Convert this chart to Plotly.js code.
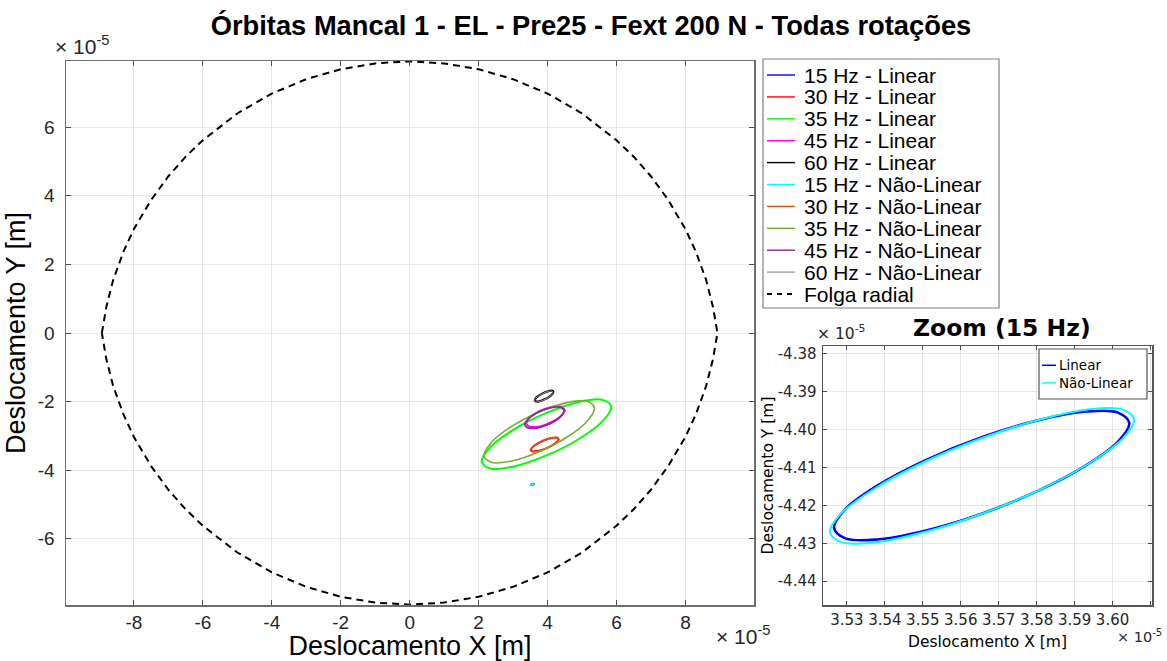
<!DOCTYPE html>
<html>
<head>
<meta charset="utf-8">
<script src="https://cdn.plot.ly/plotly-3.0.1.min.js"></script>
<style>
  html, body { margin: 0; padding: 0; background: #ffffff; }
  #chart { width: 1167px; height: 661px; }
</style>
</head>
<body>
<div id="chart"></div>
<script>
// All displacements are in units of 1e-5 m (axes carry the "x 10^-5" multiplier).

// ---- Orbits, linear model ----
const orb15LinX = [3.6044,3.6014,3.5930,3.5804,3.5655,3.5506,3.5380,3.5296,3.5266,3.5296,3.5380,3.5506,3.5655,3.5804,3.5930,3.6014,3.6044];
const orb15LinY = [-4.3983,-4.3955,-4.3952,-4.3975,-4.4020,-4.4081,-4.4148,-4.4210,-4.4259,-4.4287,-4.4290,-4.4267,-4.4222,-4.4161,-4.4094,-4.4032,-4.3983];
const orb30LinX = [4.32,4.27,4.12,3.92,3.72,3.57,3.52,3.57,3.72,3.92,4.12,4.27,4.32];
const orb30LinY = [-3.10,-3.05,-3.06,-3.12,-3.22,-3.32,-3.40,-3.45,-3.44,-3.38,-3.28,-3.18,-3.10];
const orb35LinX = [5.85,5.60,4.91,3.97,3.03,2.34,2.09,2.34,3.03,3.97,4.91,5.60,5.85];
const orb35LinY = [-2.15,-1.95,-2.01,-2.33,-2.81,-3.33,-3.75,-3.95,-3.89,-3.57,-3.09,-2.57,-2.15];
const orb45LinX = [4.50,4.42,4.22,3.94,3.66,3.46,3.38,3.46,3.66,3.94,4.22,4.42,4.50];
const orb45LinY = [-2.25,-2.16,-2.14,-2.21,-2.34,-2.49,-2.63,-2.72,-2.74,-2.67,-2.54,-2.39,-2.25];
const orb60LinX = [4.17,4.13,4.04,3.90,3.77,3.67,3.63,3.67,3.77,3.90,4.04,4.13,4.17];
const orb60LinY = [-1.72,-1.68,-1.69,-1.74,-1.81,-1.89,-1.96,-2.00,-1.99,-1.94,-1.87,-1.79,-1.72];

// ---- Orbits, non-linear model ----
const orb15NlX = [3.6057,3.6027,3.5940,3.5810,3.5656,3.5502,3.5372,3.5285,3.5255,3.5285,3.5372,3.5502,3.5656,3.5810,3.5940,3.6027,3.6057];
const orb15NlY = [-4.3974,-4.3947,-4.3946,-4.3973,-4.4022,-4.4086,-4.4156,-4.4221,-4.4270,-4.4297,-4.4298,-4.4271,-4.4222,-4.4158,-4.4088,-4.4023,-4.3974];
const orb30NlX = [4.33,4.27,4.12,3.92,3.71,3.56,3.50,3.56,3.71,3.92,4.12,4.27,4.33];
const orb30NlY = [-3.10,-3.05,-3.06,-3.12,-3.22,-3.33,-3.41,-3.46,-3.45,-3.39,-3.29,-3.19,-3.10];
const orb35NlX = [5.36,5.15,4.56,3.76,2.96,2.37,2.16,2.37,2.96,3.76,4.56,5.15,5.36];
const orb35NlY = [-2.19,-1.99,-2.03,-2.30,-2.72,-3.19,-3.57,-3.77,-3.73,-3.46,-3.04,-2.57,-2.19];
const orb45NlX = [4.48,4.40,4.20,3.91,3.63,3.42,3.34,3.42,3.63,3.91,4.20,4.40,4.48];
const orb45NlY = [-2.27,-2.18,-2.16,-2.23,-2.36,-2.52,-2.67,-2.76,-2.78,-2.71,-2.58,-2.42,-2.27];
const orb60NlX = [4.16,4.12,4.03,3.89,3.76,3.66,3.62,3.66,3.76,3.89,4.03,4.12,4.16];
const orb60NlY = [-1.73,-1.69,-1.70,-1.75,-1.82,-1.90,-1.97,-2.01,-2.00,-1.95,-1.88,-1.80,-1.73];

// ---- Radial clearance boundary ----
const folgaX = [-8.93,-8.80,-8.60,-8.30,-8.00,-7.50,-7.00,-6.50,-6.00,-5.00,-4.00,-3.00,-2.00,-1.00,0,1.00,2.00,3.00,4.00,5.00,6.00,6.50,7.00,7.50,8.00,8.30,8.60,8.80,8.93,
                8.80,8.60,8.30,8.00,7.50,7.00,6.50,6.00,5.00,4.00,3.00,2.00,1.00,0,-1.00,-2.00,-3.00,-4.00,-5.00,-6.00,-6.50,-7.00,-7.50,-8.00,-8.30,-8.60,-8.80,-8.93];
const folgaY = [0,0.76,1.55,2.38,3.03,3.88,4.57,5.14,5.62,6.40,6.98,7.40,7.69,7.86,7.92,7.86,7.69,7.40,6.98,6.40,5.62,5.14,4.57,3.88,3.03,2.38,1.55,0.76,0,
                -0.76,-1.55,-2.38,-3.03,-3.88,-4.57,-5.14,-5.62,-6.40,-6.98,-7.40,-7.69,-7.86,-7.92,-7.86,-7.69,-7.40,-6.98,-6.40,-5.62,-5.14,-4.57,-3.88,-3.03,-2.38,-1.55,-0.76,0];

// ---- Series names and colours ----
const seriesNames = ['15 Hz - Linear','30 Hz - Linear','35 Hz - Linear','45 Hz - Linear','60 Hz - Linear',
                     '15 Hz - Não-Linear','30 Hz - Não-Linear','35 Hz - Não-Linear','45 Hz - Não-Linear','60 Hz - Não-Linear',
                     'Folga radial'];
const seriesColors = ['#0000ff','#ff0000','#00ff00','#ff00ff','#000000',
                      '#00ffff','#d95319','#77ac30','#7e2f8e','#a0a0a0',
                      '#000000'];
const seriesWidths = [2, 2, 2, 2, 2.2, 1.6, 1.6, 1.6, 1.6, 1.0];
const insetNames = ['Linear','Não-Linear'];
const insetColors = ['#0000ff','#00ffff'];

// ---- Tick labels ----
const mainXTicks = [-8,-6,-4,-2,0,2,4,6,8];
const mainXText  = ['-8','-6','-4','-2','0','2','4','6','8'];
const mainYTicks = [-6,-4,-2,0,2,4,6];
const mainYText  = ['-6','-4','-2','0','2','4','6'];
const zoomXTicks = [3.53,3.54,3.55,3.56,3.57,3.58,3.59,3.60,3.61];
const zoomXText  = ['3.53','3.54','3.55','3.56','3.57','3.58','3.59','3.60','3.61'];
const zoomYTicks = [-4.44,-4.43,-4.42,-4.41,-4.40,-4.39,-4.38];
const zoomYText  = ['-4.44','-4.43','-4.42','-4.41','-4.40','-4.39','-4.38'];

// ---- Page geometry (pixels) ----
const W = 1167, H = 661;
const M = {l: 66, r: 15, t: 61, b: 56};
const PW = W - M.l - M.r, PH = H - M.t - M.b;
const fx = x => (x - M.l) / PW;         // pixel -> paper x
const fy = y => (H - M.b - y) / PH;     // pixel -> paper y

const FMAIN = 'Liberation Sans, Arial, sans-serif';
const FZOOM = 'DejaVu Sans, Verdana, sans-serif';

const mainX = [orb15LinX, orb30LinX, orb35LinX, orb45LinX, orb60LinX, orb15NlX, orb30NlX, orb35NlX, orb45NlX, orb60NlX];
const mainY = [orb15LinY, orb30LinY, orb35LinY, orb45LinY, orb60LinY, orb15NlY, orb30NlY, orb35NlY, orb45NlY, orb60NlY];

const traces = [];
for (let i = 0; i < 10; i++) {
  traces.push({
    x: mainX[i], y: mainY[i], type: 'scatter', mode: 'lines',
    name: seriesNames[i], showlegend: false, hoverinfo: 'skip',
    line: {color: seriesColors[i], width: seriesWidths[i], shape: 'spline', smoothing: 1},
    xaxis: 'x', yaxis: 'y'
  });
}
traces.push({
  x: folgaX, y: folgaY, type: 'scatter', mode: 'lines',
  name: seriesNames[10], showlegend: false, hoverinfo: 'skip',
  line: {color: '#000000', width: 2, dash: '7px,5px'},
  xaxis: 'x', yaxis: 'y'
});
// Zoomed 15 Hz orbits
traces.push({
  x: orb15LinX, y: orb15LinY, type: 'scatter', mode: 'lines', name: insetNames[0],
  showlegend: false, hoverinfo: 'skip',
  line: {color: insetColors[0], width: 2.6, shape: 'spline', smoothing: 1},
  xaxis: 'x2', yaxis: 'y2'
});
traces.push({
  x: orb15NlX, y: orb15NlY, type: 'scatter', mode: 'lines', name: insetNames[1],
  showlegend: false, hoverinfo: 'skip',
  line: {color: insetColors[1], width: 2, shape: 'spline', smoothing: 1},
  xaxis: 'x2', yaxis: 'y2'
});

const axisCommon = {
  showline: true, mirror: 'ticks', linecolor: '#6e6e6e', linewidth: 1.5,
  ticks: 'inside', ticklen: 5, tickwidth: 1, tickcolor: '#4d4d4d',
  showgrid: true, gridcolor: '#e6e6e6', gridwidth: 1, zeroline: false,
  tickmode: 'array', fixedrange: true
};

const shapes = [];
const annotations = [];

// Main legend box and entries
shapes.push({type: 'rect', xref: 'paper', yref: 'paper', x0: fx(763), x1: fx(999), y0: fy(59), y1: fy(308),
             line: {color: '#808080', width: 1.2}, fillcolor: '#ffffff', layer: 'above'});
for (let i = 0; i < seriesNames.length; i++) {
  const yy = 75 + i * 21.9;
  shapes.push({type: 'line', xref: 'paper', yref: 'paper', x0: fx(767), x1: fx(795), y0: fy(yy), y1: fy(yy),
               line: {color: seriesColors[i], width: i === 10 ? 2 : 1.4, dash: i === 10 ? '5px,5px' : 'solid'}, layer: 'above'});
  annotations.push({xref: 'paper', yref: 'paper', x: fx(802), y: fy(yy), xanchor: 'left', yanchor: 'middle',
                    text: seriesNames[i], showarrow: false, font: {family: FMAIN, size: 21, color: '#000000'}});
}

// Zoom legend box and entries
shapes.push({type: 'rect', xref: 'paper', yref: 'paper', x0: fx(1039), x1: fx(1147), y0: fy(349), y1: fy(399),
             line: {color: '#555555', width: 1.2}, fillcolor: '#ffffff', layer: 'above'});
for (let i = 0; i < insetNames.length; i++) {
  const yy = 365.3 + i * 17.6;
  shapes.push({type: 'line', xref: 'paper', yref: 'paper', x0: fx(1042), x1: fx(1056), y0: fy(yy), y1: fy(yy),
               line: {color: insetColors[i], width: 1.5}, layer: 'above'});
  annotations.push({xref: 'paper', yref: 'paper', x: fx(1058), y: fy(yy), xanchor: 'left', yanchor: 'middle',
                    text: insetNames[i], showarrow: false, borderpad: 0,
                    font: {family: FZOOM, size: 13.5, color: '#000000'}});
}

// Exponent multipliers
const mult = (x, y, size, anchorY, family) => ({
  xref: 'paper', yref: 'paper', x: fx(x), y: fy(y), xanchor: 'left', yanchor: anchorY,
  text: '× 10<sup>-5</sup>', showarrow: false, borderpad: 0,
  font: {family: family, size: size, color: '#262626'}
});
annotations.push(mult(54, 59, 21, 'bottom', FMAIN));
annotations.push(mult(715, 621, 21, 'top', FMAIN));
annotations.push(mult(816, 344, 15.5, 'bottom', FZOOM));
annotations.push(mult(1116, 626, 14.5, 'top', FZOOM));

// Zoom subplot title
annotations.push({xref: 'paper', yref: 'paper', x: fx(1002), y: fy(328), xanchor: 'center', yanchor: 'middle',
                  text: '<b>Zoom (15 Hz)</b>', showarrow: false, font: {family: FZOOM, size: 23.5, color: '#000000'}});

const layout = {
  width: W, height: H, autosize: false,
  margin: M, paper_bgcolor: '#ffffff', plot_bgcolor: '#ffffff',
  showlegend: false,
  title: {text: '<b>Órbitas Mancal 1 - EL - Pre25 - Fext 200 N - Todas rotações</b>',
          x: 591 / W, xref: 'container', xanchor: 'center',
          y: 1 - 25 / H, yref: 'container', yanchor: 'middle',
          font: {family: FMAIN, size: 27.3, color: '#000000'}},
  xaxis: Object.assign({}, axisCommon, {
    domain: [0, fx(754)], range: [-9.97, 9.99], anchor: 'y',
    tickvals: mainXTicks, ticktext: mainXText,
    tickfont: {family: FMAIN, size: 19, color: '#262626'},
    title: {text: 'Deslocamento X [m]', font: {family: FMAIN, size: 27, color: '#000000'}, standoff: 4}
  }),
  yaxis: Object.assign({}, axisCommon, {
    domain: [0, 1], range: [-7.93, 7.93], anchor: 'x',
    tickvals: mainYTicks, ticktext: mainYText, ticklabelstandoff: 6,
    tickfont: {family: FMAIN, size: 19, color: '#262626'},
    title: {text: 'Deslocamento Y [m]', font: {family: FMAIN, size: 27, color: '#000000'}, standoff: 4}
  }),
  xaxis2: Object.assign({}, axisCommon, {
    domain: [fx(823), 1], range: [3.5237, 3.6104], anchor: 'y2',
    linecolor: '#555555', ticklen: 4,
    tickvals: zoomXTicks, ticktext: zoomXText,
    tickfont: {family: FZOOM, size: 15, color: '#262626'},
    title: {text: 'Deslocamento X [m]', font: {family: FZOOM, size: 15.5, color: '#000000'}, standoff: 8}
  }),
  yaxis2: Object.assign({}, axisCommon, {
    domain: [0, fy(346)], range: [-4.4463, -4.3779], anchor: 'x2',
    linecolor: '#555555', ticklen: 4, ticklabelstandoff: 2,
    tickvals: zoomYTicks, ticktext: zoomYText,
    tickfont: {family: FZOOM, size: 15, color: '#262626'},
    title: {text: 'Deslocamento Y [m]', font: {family: FZOOM, size: 15.5, color: '#000000'}, standoff: 0}
  }),
  shapes: shapes,
  annotations: annotations
};

Plotly.newPlot('chart', traces, layout, {staticPlot: true, displayModeBar: false});
</script>
</body>
</html>
